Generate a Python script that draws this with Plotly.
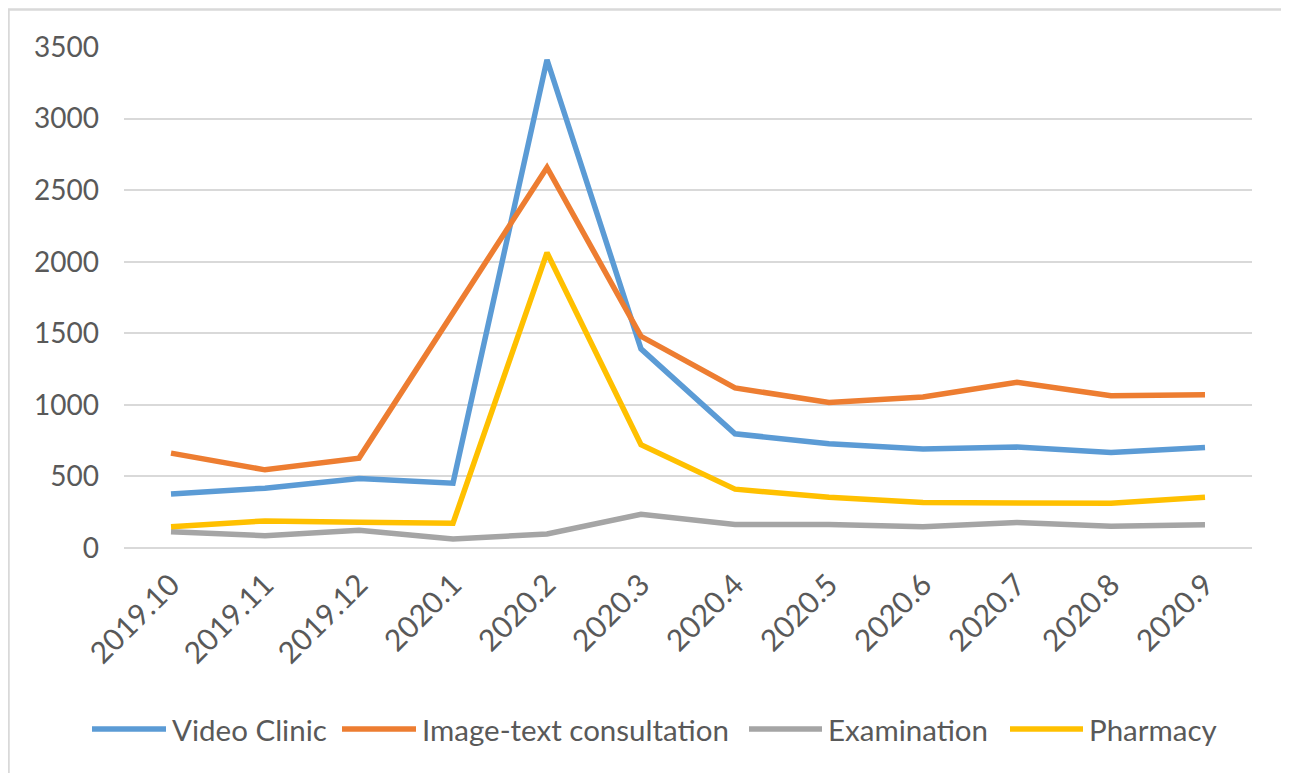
import plotly.graph_objects as go

months = ["2019.10", "2019.11", "2019.12", "2020.1", "2020.2", "2020.3",
          "2020.4", "2020.5", "2020.6", "2020.7", "2020.8", "2020.9"]
video_clinic = [378, 418, 486, 453, 3411, 1391, 798, 728, 691, 705, 667, 702]
image_text = [663, 546, 628, 1650, 2658, 1479, 1118, 1017, 1055, 1157, 1064, 1071]
examination = [114, 86, 124, 63, 98, 236, 164, 164, 149, 178, 152, 162]
pharmacy = [149, 189, 180, 173, 2063, 721, 411, 355, 317, 313, 313, 355]

series_names = ["Video Clinic", "Image-text consultation", "Examination", "Pharmacy"]
series_values = [video_clinic, image_text, examination, pharmacy]
series_colors = ["#5B9BD5", "#ED7D31", "#A5A5A5", "#FFC000"]

FONT = "Lato"
TXT = "#595959"
FS = 28

# the page body has an 8px margin; work in page pixels and convert
OFF = 8
W, H = 1289 - OFF, 773 - OFF
PL, PR, PT, PB = 124, 1252, 47, 548          # plot area in page pixels
L = PL - OFF
T = PT - OFF
R = W - (PR - OFF)
B = H - (PB - OFF)
pw = W - L - R
ph = H - T - B


def px(x):
    return (x - PL) / pw


def py(y):
    return (PB - y) / ph


fig = go.Figure()
for name, vals, col in zip(series_names, series_values, series_colors):
    fig.add_trace(go.Scatter(x=months, y=vals, mode="lines", name=name,
                             line=dict(color=col, width=5.5), showlegend=False))

# custom legend (long line keys like the original)
legend_pos = [(92, 166), (342, 416), (749, 822), (1010, 1083)]
shapes = [dict(type="rect", xref="paper", yref="paper",
               x0=px(8.5), x1=px(1288), y0=py(790), y1=py(9.5),
               line=dict(color="#D9D9D9", width=2.5), fillcolor="rgba(0,0,0,0)",
               layer="below")]
annotations = []
for (x0, x1), name, col in zip(legend_pos, series_names, series_colors):
    shapes.append(dict(type="line", xref="paper", yref="paper",
                       x0=px(x0), x1=px(x1), y0=py(729), y1=py(729),
                       line=dict(color=col, width=5.5)))
    annotations.append(dict(text=name, xref="paper", yref="paper",
                            x=px(x1 + 4), y=py(729), xanchor="left", yanchor="middle",
                            showarrow=False, font=dict(size=29.5, color=TXT, family=FONT)))

fig.update_layout(
    width=W, height=H,
    margin=dict(l=L, r=R, t=T, b=B, autoexpand=False),
    paper_bgcolor="white", plot_bgcolor="white",
    font=dict(family=FONT, color=TXT, size=FS),
    showlegend=False,
    xaxis=dict(showgrid=False, showline=False, zeroline=False, ticks="",
               automargin=False, tickangle=-45,
               tickfont=dict(size=30, color=TXT, family=FONT),
               ticklabelstandoff=12,
               range=[-0.5, 11.5]),
    yaxis=dict(range=[0, 3500], dtick=500, showgrid=True, gridcolor="#D9D9D9",
               gridwidth=1.5, zeroline=True, zerolinecolor="#D9D9D9", zerolinewidth=1.5,
               showline=False, ticks="", automargin=False,
               tickfont=dict(size=FS, color=TXT, family=FONT),
               ticklabelstandoff=24),
    shapes=shapes,
    annotations=annotations,
)

fig.write_html("out.html")
